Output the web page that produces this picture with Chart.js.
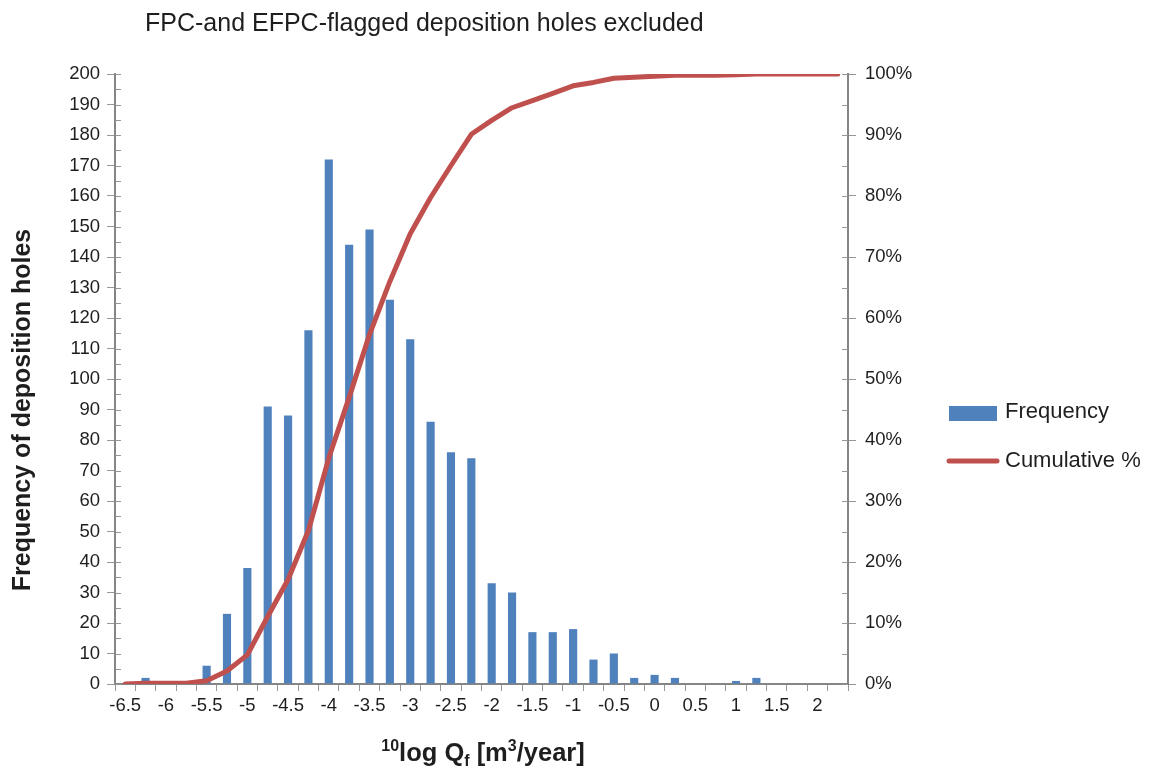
<!DOCTYPE html>
<html>
<head>
<meta charset="utf-8">
<title>Frequency of deposition holes</title>
<script src="https://cdn.jsdelivr.net/npm/chart.js@4.4.1/dist/chart.umd.min.js"></script>
<style>
  html, body { margin: 0; padding: 0; background: #ffffff; }
  canvas { display: block; }
</style>
</head>
<body>
<canvas id="chart" width="1152" height="769"></canvas>
<script>
// Class midpoints of 10log Qf [m3/year]
const categories = [
  '-6.5', '-6.25', '-6', '-5.75', '-5.5', '-5.25', '-5', '-4.75', '-4.5',
  '-4.25', '-4', '-3.75', '-3.5', '-3.25', '-3', '-2.75', '-2.5', '-2.25',
  '-2', '-1.75', '-1.5', '-1.25', '-1', '-0.75', '-0.5', '-0.25', '0',
  '0.25', '0.5', '0.75', '1', '1.25', '1.5', '1.75', '2', '2.25'
];

// Number of deposition holes in each class
const frequency = [
  0, 2, 0, 0, 6, 23, 38, 91, 88,
  116, 172, 144, 149, 126, 113, 86, 76, 74,
  33, 30, 17, 17, 18, 8, 10, 2, 3,
  2, 0, 0, 1, 2, 0, 0, 0, 0
];

// Cumulative share of deposition holes (%)
const cumulativePct = [
  0, 0.14, 0.14, 0.14, 0.55, 2.14, 4.77, 11.06, 17.14,
  25.16, 37.04, 46.99, 57.29, 66.0, 73.81, 79.75, 85.0, 90.12,
  92.4, 94.47, 95.65, 96.82, 98.06, 98.62, 99.31, 99.45, 99.65,
  99.79, 99.79, 99.79, 99.86, 100, 100, 100, 100, 100
];

const FONT = "'Liberation Sans', Arial, Helvetica, sans-serif";
const TEXT = '#1e1e1e';
const AXIS = '#858585';
const TICK = '#959595';
const BLUE = '#4F81BD';
const RED = '#C0504D';

// Title, axis titles, inner minor ticks and legend
const decorations = {
  id: 'decorations',
  afterDraw(chart) {
    const ctx = chart.ctx;
    const area = chart.chartArea;
    const yL = chart.scales.y;
    const yR = chart.scales.y1;

    ctx.save();

    // inner ticks every 5 units on both value axes
    ctx.strokeStyle = TICK;
    ctx.lineWidth = 1;
    ctx.beginPath();
    for (let v = 0; v <= 200; v += 5) {
      const py = Math.round(yL.getPixelForValue(v)) + 0.5;
      ctx.moveTo(area.left, py);
      ctx.lineTo(area.left + 6, py);
    }
    for (let v = 0; v <= 100; v += 5) {
      const py = Math.round(yR.getPixelForValue(v)) + 0.5;
      ctx.moveTo(area.right, py);
      ctx.lineTo(area.right - 6, py);
    }
    ctx.stroke();

    // chart title
    ctx.fillStyle = TEXT;
    ctx.textAlign = 'left';
    ctx.textBaseline = 'alphabetic';
    ctx.font = '25px ' + FONT;
    ctx.fillText('FPC-and EFPC-flagged deposition holes excluded', 145, 31);

    // left axis title
    ctx.save();
    ctx.translate(23, 410);
    ctx.rotate(-Math.PI / 2);
    ctx.textAlign = 'center';
    ctx.textBaseline = 'middle';
    ctx.font = 'bold 25px ' + FONT;
    ctx.fillText('Frequency of deposition holes', 0, 0);
    ctx.restore();

    // bottom axis title with super/subscripts
    const parts = [
      { t: '10', size: 16, dy: -10 },
      { t: 'log Q', size: 25.5, dy: 0 },
      { t: 'f', size: 16, dy: 5 },
      { t: ' [m', size: 25.5, dy: 0 },
      { t: '3', size: 16, dy: -10 },
      { t: '/year]', size: 25.5, dy: 0 }
    ];
    let total = 0;
    parts.forEach(p => {
      ctx.font = 'bold ' + p.size + 'px ' + FONT;
      p.w = ctx.measureText(p.t).width;
      total += p.w;
    });
    let px = 483 - total / 2;
    const base = 761;
    ctx.textAlign = 'left';
    ctx.textBaseline = 'alphabetic';
    parts.forEach(p => {
      ctx.font = 'bold ' + p.size + 'px ' + FONT;
      ctx.fillText(p.t, px, base + p.dy);
      px += p.w;
    });

    // legend
    const barDs = chart.data.datasets.find(d => d.type === 'bar');
    const lineDs = chart.data.datasets.find(d => d.type === 'line');
    ctx.font = '22px ' + FONT;
    ctx.textBaseline = 'middle';
    ctx.fillStyle = barDs.backgroundColor;
    ctx.fillRect(949, 406, 48, 15);
    ctx.fillStyle = TEXT;
    ctx.fillText(barDs.label, 1005, 412);

    ctx.strokeStyle = lineDs.borderColor;
    ctx.lineWidth = 5;
    ctx.lineCap = 'round';
    ctx.beginPath();
    ctx.moveTo(949, 461);
    ctx.lineTo(997, 461);
    ctx.stroke();
    ctx.fillStyle = TEXT;
    ctx.fillText(lineDs.label, 1005, 461);

    ctx.restore();
  }
};

const tickFont = { family: FONT, size: 18.5 };

new Chart(document.getElementById('chart'), {
  data: {
    labels: categories,
    datasets: [
      {
        type: 'line',
        label: 'Cumulative %',
        data: cumulativePct,
        yAxisID: 'y1',
        borderColor: RED,
        backgroundColor: RED,
        borderWidth: 5,
        borderCapStyle: 'round',
        borderJoinStyle: 'round',
        pointRadius: 0,
        tension: 0,
        order: 0
      },
      {
        type: 'bar',
        label: 'Frequency',
        data: frequency,
        yAxisID: 'y',
        backgroundColor: BLUE,
        borderWidth: 0,
        barPercentage: 0.4,
        categoryPercentage: 1,
        order: 1
      }
    ]
  },
  options: {
    responsive: false,
    animation: false,
    layout: { padding: { top: 74, left: 0, right: 0, bottom: 0 } },
    plugins: {
      legend: { display: false },
      title: { display: false },
      tooltip: { enabled: false }
    },
    scales: {
      x: {
        type: 'category',
        offset: true,
        grid: {
          offset: true,
          drawOnChartArea: false,
          drawTicks: true,
          tickLength: 7,
          color: TICK,
          lineWidth: 1
        },
        border: { display: true, color: AXIS, width: 2 },
        ticks: {
          autoSkip: false,
          maxRotation: 0,
          minRotation: 0,
          padding: 4,
          color: TEXT,
          font: tickFont,
          callback(value, index) {
            return index % 2 === 0 ? this.getLabelForValue(value) : '';
          }
        },
        afterFit(scale) { scale.height = 85; }
      },
      y: {
        type: 'linear',
        position: 'left',
        min: 0,
        max: 200,
        grid: {
          drawOnChartArea: false,
          drawTicks: true,
          tickLength: 8,
          color: TICK,
          lineWidth: 1
        },
        border: { display: true, color: AXIS, width: 2 },
        ticks: { stepSize: 10, padding: 7, color: TEXT, font: tickFont },
        afterFit(scale) { scale.width = 115; }
      },
      y1: {
        type: 'linear',
        position: 'right',
        min: 0,
        max: 100,
        grid: {
          drawOnChartArea: false,
          drawTicks: true,
          tickLength: 8,
          color: TICK,
          lineWidth: 1
        },
        border: { display: true, color: AXIS, width: 2 },
        ticks: {
          stepSize: 10,
          padding: 9,
          color: TEXT,
          font: tickFont,
          callback: v => v + '%'
        },
        afterFit(scale) { scale.width = 304; }
      }
    }
  },
  plugins: [decorations]
});
</script>
</body>
</html>
